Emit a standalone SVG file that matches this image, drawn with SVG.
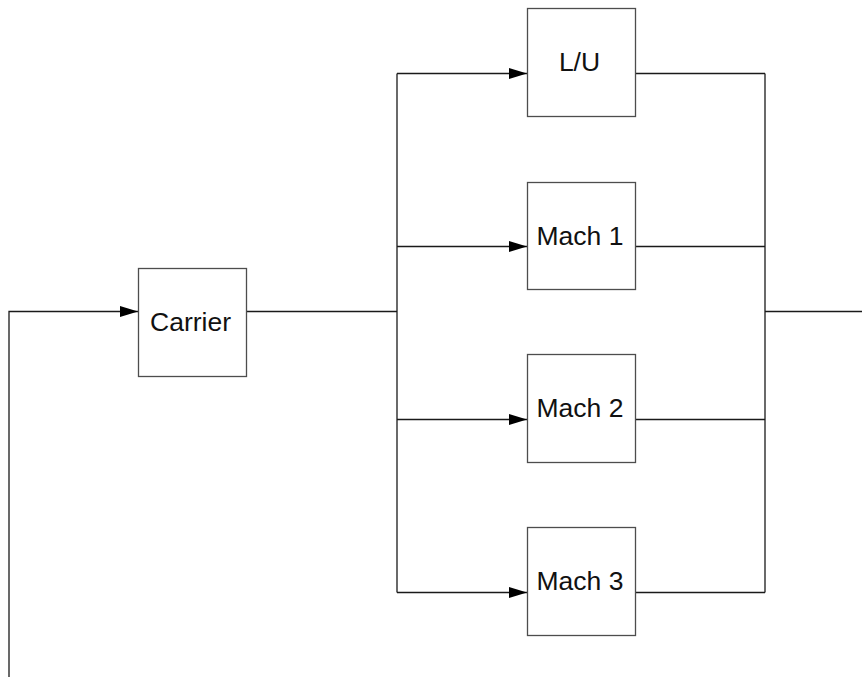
<svg xmlns="http://www.w3.org/2000/svg" width="862" height="677" viewBox="0 0 862 677">
<style>
.box{fill:#fff;stroke:#4d4d4d;stroke-width:1.3}
.lbl{font-family:"Liberation Sans",Arial,sans-serif;font-size:26.5px;fill:#111;text-anchor:middle;dominant-baseline:central}
.ln{fill:none;stroke:#1a1a1a;stroke-width:1.3}
</style>
<defs>
<marker id="arr" markerWidth="18" markerHeight="11" refX="18" refY="5.5" orient="auto" markerUnits="userSpaceOnUse">
<path d="M0,0 L18,5.5 L0,11 Z" fill="#000"/>
</marker>
</defs>
<rect width="862" height="677" fill="#fff"/>
<g id="connectors">
<path class="ln" d="M9,677 V311.5 H138" marker-end="url(#arr)"/>
<path class="ln" d="M246.5,311.5 H397"/>
<path class="ln" d="M397,73.5 V592.5"/>
<path class="ln" d="M397,73.5 H527" marker-end="url(#arr)"/>
<path class="ln" d="M397,246.5 H527" marker-end="url(#arr)"/>
<path class="ln" d="M397,419.5 H527" marker-end="url(#arr)"/>
<path class="ln" d="M397,592.5 H527" marker-end="url(#arr)"/>
<path class="ln" d="M635.5,73.5 H765"/>
<path class="ln" d="M635.5,246.5 H765"/>
<path class="ln" d="M635.5,419.5 H765"/>
<path class="ln" d="M635.5,592.5 H765"/>
<path class="ln" d="M765,73.5 V592.5"/>
<path class="ln" d="M765,311.5 H862"/>
</g>
<g id="carrier">
<rect class="box" x="138.5" y="268.5" width="108" height="108"/>
<text class="lbl" x="190.5" y="322">Carrier</text>
</g>
<g id="lu">
<rect class="box" x="527.5" y="8.5" width="108" height="108"/>
<text class="lbl" x="579.5" y="62">L/U</text>
</g>
<g id="mach1">
<rect class="box" x="527.5" y="182.5" width="108" height="107"/>
<text class="lbl" x="580" y="235.5">Mach 1</text>
</g>
<g id="mach2">
<rect class="box" x="527.5" y="354.5" width="108" height="108"/>
<text class="lbl" x="580" y="408">Mach 2</text>
</g>
<g id="mach3">
<rect class="box" x="527.5" y="527.5" width="108" height="108"/>
<text class="lbl" x="580" y="581">Mach 3</text>
</g>
</svg>
